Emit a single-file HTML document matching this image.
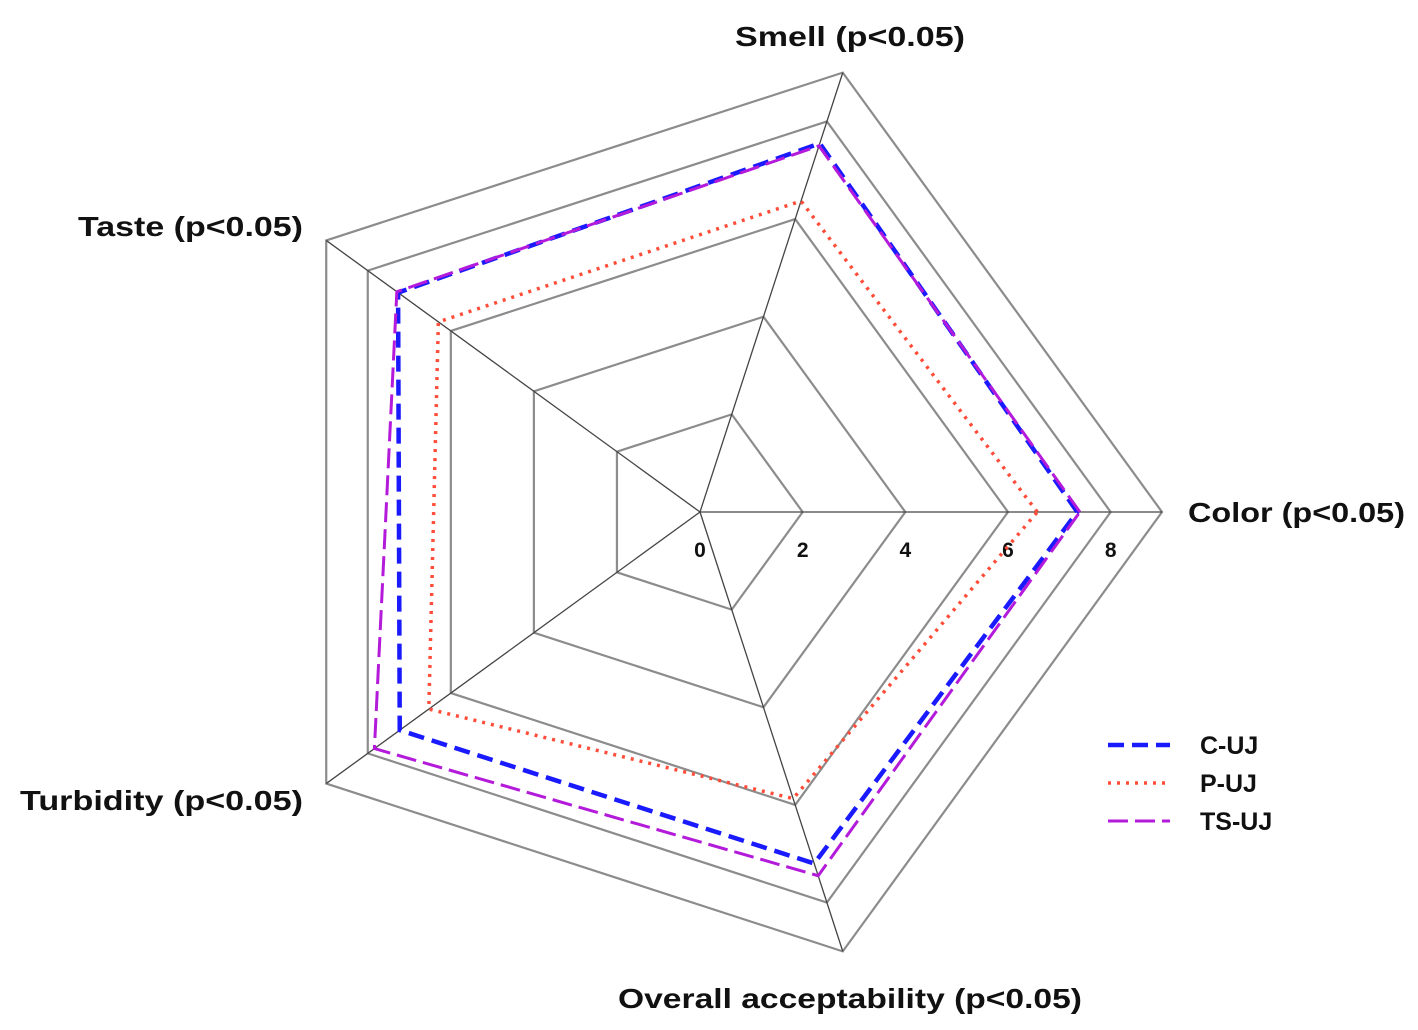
<!DOCTYPE html>
<html><head><meta charset="utf-8"><style>
html,body{margin:0;padding:0;background:#fff;}
svg{display:block;font-family:"Liberation Sans",Arial,sans-serif;}
</style></head><body>
<svg id="chart" width="1418" height="1030"></svg>
<script>
const axes = ["Color (p<0.05)","Smell  (p<0.05)","Taste  (p<0.05)","Turbidity  (p<0.05)","Overall acceptability  (p<0.05)"];
const seriesNames = ["C-UJ","P-UJ","TS-UJ"];
const cuj = [7.35, 7.55, 7.27, 7.23, 7.2];
const puj = [6.57, 6.37, 6.3, 6.53, 5.87];
const tsuj = [7.4, 7.5, 7.3, 7.84, 7.45];
const rings = [2, 4, 6, 8, 9];
const tickLabels = ["0","2","4","6","8"];
const tickValues = [0, 2, 4, 6, 8];

const svg = document.getElementById('chart');
const NS = "http://www.w3.org/2000/svg";
const cx = 700, cy = 512, maxV = 9, R = 462;
const angles = [0, -72, -144, 144, 72].map(a => a * Math.PI / 180);
function pt(i, v){ const r = v / maxV * R; return [cx + r*Math.cos(angles[i]), cy + r*Math.sin(angles[i])]; }
function mk(tag, attrs){ const e = document.createElementNS(NS, tag); for (const k in attrs) e.setAttribute(k, attrs[k]); svg.appendChild(e); return e; }

rings.forEach((v) => {
  const p = axes.map((_, i) => pt(i, v).join(',')).join(' ');
  const e = mk('polygon', {points: p, fill: 'none', stroke: '#8c8c8c', 'stroke-width': 2.2});
  
  
});
axes.forEach((a, i) => {
  const [x, y] = pt(i, maxV);
  const e = mk('line', {x1: cx, y1: cy, x2: x, y2: y, stroke: '#444', 'stroke-width': 1.3});
  
  
});
tickValues.forEach((v, j) => {
  const [x] = pt(0, v);
  const t = mk('text', {x: x, y: 557, 'text-anchor': 'middle', 'font-size': 21, 'font-weight': 'bold', fill: '#111'});
  t.textContent = tickLabels[j];
  
  
});
const labelPos = [[1188,522,217],[735,46,230],[78,236,225],[20,810,283],[618,1008,464]];
axes.forEach((a, i) => {
  const [x, y, w] = labelPos[i];
  const t = mk('text', {x: x, y: y, 'font-size': 28, 'font-weight': 'bold', fill: '#111', textLength: w, lengthAdjust: 'spacingAndGlyphs'});
  t.textContent = a;
  
  
});
const styles = [
  {data: cuj, color: '#1a1aff', dash: '16 8', w: 4.5},
  {data: puj, color: '#ff4d3a', dash: '3 6', w: 3.5},
  {data: tsuj, color: '#b31ad9', dash: '20 7', w: 3}
];
styles.forEach((s, k) => {
  const p = s.data.map((v, i) => pt(i, v).join(',')).join(' ');
  const e = mk('polygon', {points: p, fill: 'none', stroke: s.color, 'stroke-width': s.w, 'stroke-dasharray': s.dash});
  
  
  const ly = 745 + k * 38;
  const l = mk('line', {x1: 1108, y1: ly, x2: 1170, y2: ly, stroke: s.color, 'stroke-width': s.w, 'stroke-dasharray': s.dash});
  
  
  const t = mk('text', {x: 1200, y: ly + 9, 'font-size': 25, 'font-weight': 'bold', fill: '#111'});
  t.textContent = seriesNames[k];
  
  
});
</script>
</body></html>
